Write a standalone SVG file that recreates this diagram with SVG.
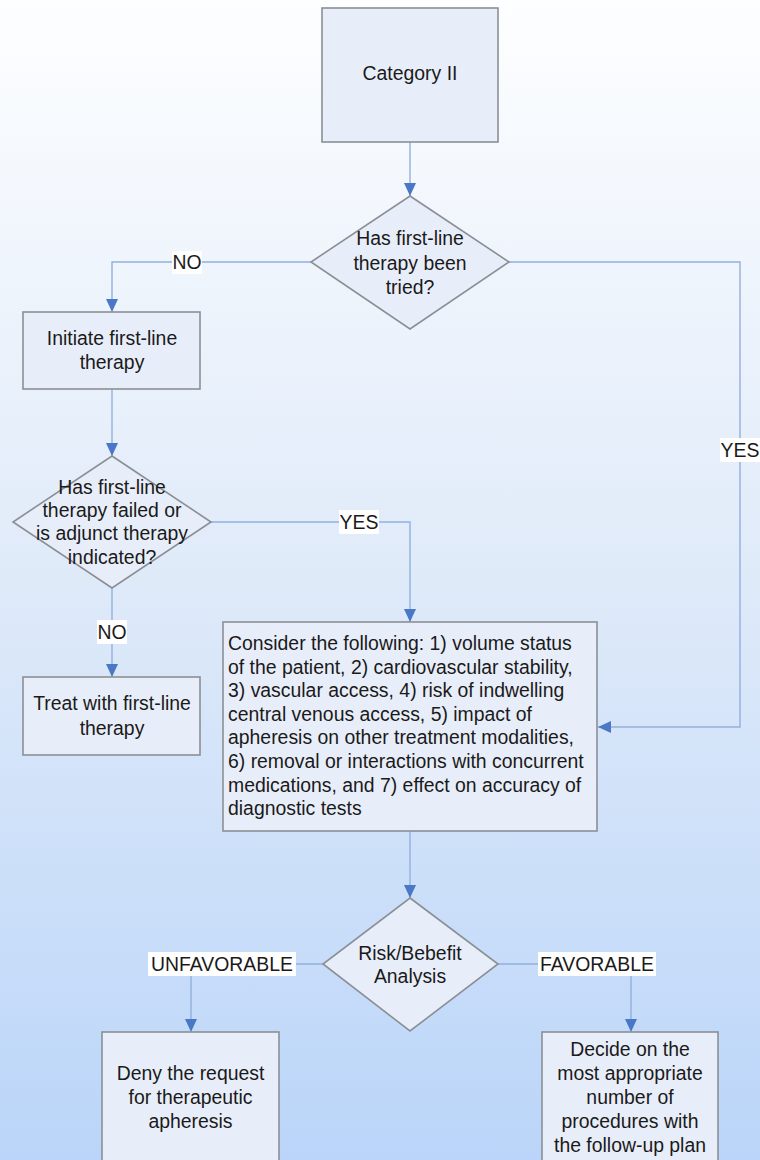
<svg xmlns="http://www.w3.org/2000/svg" width="760" height="1160" viewBox="0 0 760 1160">
<defs>
<linearGradient id="bg" x1="0" y1="0" x2="0" y2="1">
<stop offset="0" stop-color="#fdfeff"/>
<stop offset="0.5" stop-color="#dfeaf9"/>
<stop offset="1" stop-color="#bad5f9"/>
</linearGradient>
<marker id="ah" markerUnits="userSpaceOnUse" markerWidth="13" markerHeight="12" refX="13" refY="6" orient="auto">
<path d="M0,0 L13,6 L0,12 z" fill="#4a78c6"/>
</marker>
<style>
.n{fill:#e8eef9;stroke:#8b8f95;stroke-width:1.6}
.t{font-family:"Liberation Sans",Arial,Helvetica,sans-serif;font-size:19.4px;fill:#1a1a1a;text-anchor:middle}
.tl{font-family:"Liberation Sans",Arial,Helvetica,sans-serif;font-size:19.4px;fill:#1a1a1a;text-anchor:start}
.c{fill:none;stroke:#93b0de;stroke-width:1.4;marker-end:url(#ah)}
.cn{fill:none;stroke:#93b0de;stroke-width:1.4}
.lb{fill:#ffffff}
</style>
</defs>
<rect x="0" y="0" width="760" height="1160" fill="url(#bg)"/>

<g id="connectors">
<path class="c" d="M410,142 V196"/>
<path class="c" d="M311,262 H112 V312"/>
<path class="c" d="M509,262 H740 V727 H598"/>
<path class="c" d="M112,389 V456"/>
<path class="c" d="M211,522 H410 V622"/>
<path class="c" d="M112,588 V677"/>
<path class="c" d="M410,831 V898"/>
<path class="c" d="M323,964 H191 V1032"/>
<path class="c" d="M498,964 H631 V1032"/>
<g id="labels">
<rect class="lb" x="172" y="251" width="30" height="23"/>
<text class="t" x="187" y="269">NO</text>
<rect class="lb" x="720" y="438" width="40" height="24"/>
<text class="t" x="740" y="457">YES</text>
<rect class="lb" x="339" y="510" width="40" height="24"/>
<text class="t" x="359" y="529">YES</text>
<rect class="lb" x="97" y="620" width="30" height="24"/>
<text class="t" x="112" y="639">NO</text>
<rect class="lb" x="148" y="952" width="148" height="24"/>
<text class="t" x="222" y="971">UNFAVORABLE</text>
<rect class="lb" x="538" y="952" width="118" height="24"/>
<text class="t" x="597" y="971">FAVORABLE</text>
</g>
</g>

<g id="category">
<rect class="n" x="322" y="8" width="176" height="134"/>
<text class="t" x="410" y="80">Category II</text>
</g>

<g id="d1">
<polygon class="n" points="410,196 509,262 410,329 311,262"/>
<text class="t" x="410" y="245">Has first-line</text>
<text class="t" x="410" y="270">therapy been</text>
<text class="t" x="410" y="294">tried?</text>
</g>

<g id="initiate">
<rect class="n" x="23" y="312" width="177" height="77"/>
<text class="t" x="112" y="345">Initiate first-line</text>
<text class="t" x="112" y="369">therapy</text>
</g>

<g id="d2">
<polygon class="n" points="112,456 211,522 112,588 13,522"/>
<text class="t" x="112" y="494">Has first-line</text>
<text class="t" x="112" y="517">therapy failed or</text>
<text class="t" x="112" y="540">is adjunct therapy</text>
<text class="t" x="112" y="564">indicated?</text>
</g>

<g id="treat">
<rect class="n" x="23" y="677" width="177" height="78"/>
<text class="t" x="112" y="710">Treat with first-line</text>
<text class="t" x="112" y="735">therapy</text>
</g>

<g id="consider">
<rect class="n" x="223" y="622" width="374" height="209"/>
<text class="tl" x="228" y="650">Consider the following: 1) volume status</text>
<text class="tl" x="228" y="674">of the patient, 2) cardiovascular stability,</text>
<text class="tl" x="228" y="697">3) vascular access, 4) risk of indwelling</text>
<text class="tl" x="228" y="721">central venous access, 5) impact of</text>
<text class="tl" x="228" y="744">apheresis on other treatment modalities,</text>
<text class="tl" x="228" y="768">6) removal or interactions with concurrent</text>
<text class="tl" x="228" y="792">medications, and 7) effect on accuracy of</text>
<text class="tl" x="228" y="815">diagnostic tests</text>
</g>

<g id="d3">
<polygon class="n" points="410,898 498,964 410,1031 323,964"/>
<text class="t" x="410" y="960">Risk/Bebefit</text>
<text class="t" x="410" y="983">Analysis</text>
</g>

<g id="deny">
<rect class="n" x="102" y="1032" width="177" height="140"/>
<text class="t" x="190.5" y="1080">Deny the request</text>
<text class="t" x="190.5" y="1104">for therapeutic</text>
<text class="t" x="190.5" y="1128">apheresis</text>
</g>

<g id="decide">
<rect class="n" x="542" y="1032" width="176" height="140"/>
<text class="t" x="630" y="1056">Decide on the</text>
<text class="t" x="630" y="1080">most appropriate</text>
<text class="t" x="630" y="1104">number of</text>
<text class="t" x="630" y="1128">procedures with</text>
<text class="t" x="630" y="1152">the follow-up plan</text>
</g>
</svg>
